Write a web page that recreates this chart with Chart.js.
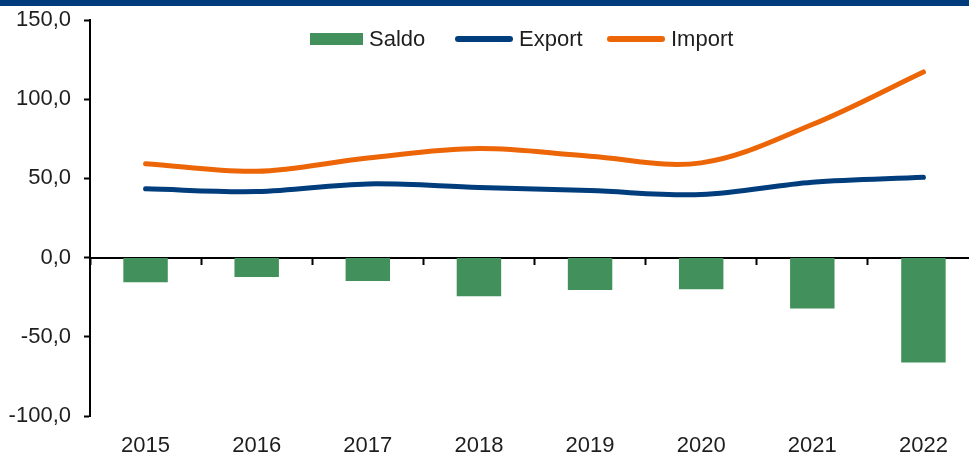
<!DOCTYPE html>
<html>
<head>
<meta charset="utf-8">
<script src="https://cdn.jsdelivr.net/npm/chart.js@4"></script>
<style>
  html, body { margin: 0; padding: 0; background: #fff; overflow: hidden; }
  #wrap { position: relative; width: 979px; height: 457px; }
  #band { position: absolute; left: 0; top: 0; width: 979px; height: 6px; background: #003b7b; }
  #chart { position: absolute; left: 0; top: 0; }
  .lg { position: absolute; top: 26px; height: 25px; display: flex; align-items: center;
        font: 22px "Liberation Sans", Arial, sans-serif; color: #1e1e1e; }
  .sw { margin-right: 6px; }
</style>
</head>
<body>
<div id="wrap">
  <canvas id="chart" width="979" height="457"></canvas>
  <div id="band"></div>
</div>
<script>
// values (bn)
const years = ['2015', '2016', '2017', '2018', '2019', '2020', '2021', '2022']
const saldo = [-15.6, -12.2, -14.8, -24.4, -20.4, -20.0, -32.2, -66.3]
const exportVals = [43.4, 41.7, 46.5, 44.2, 42.3, 39.8, 47.6, 50.7]
const importVals = [59.3, 54.5, 62.9, 68.8, 64.0, 59.8, 84.0, 117.2]
const yTicks = [-100, -50, 0, 50, 100, 150]

const GREEN = '#42905b'
const NAVY = '#003d7c'
const ORANGE = '#ec6608'
const FONT = { family: '"Liberation Sans", Arial, sans-serif', size: 22 }

// legend overlay (sits inside the plot, like the original)
const legendItems = [
  { label: 'Saldo', color: GREEN, kind: 'bar', left: 310 },
  { label: 'Export', color: NAVY, kind: 'line', left: 455 },
  { label: 'Import', color: ORANGE, kind: 'line', left: 607 },
]
const wrap = document.getElementById('wrap')
legendItems.forEach(it => {
  const el = document.createElement('div')
  el.className = 'lg'
  el.style.left = it.left + 'px'
  const sw = document.createElement('span')
  sw.className = 'sw'
  sw.style.display = 'inline-block'
  sw.style.background = it.color
  if (it.kind === 'bar') {
    sw.style.width = '53px'; sw.style.height = '12px'
  } else {
    sw.style.width = '58px'; sw.style.height = '6px'; sw.style.borderRadius = '3px'
  }
  el.appendChild(sw)
  el.appendChild(document.createTextNode(it.label))
  wrap.appendChild(el)
})

const fmt = v => v.toFixed(1).replace('.', ',')

new Chart(document.getElementById('chart'), {
  type: 'bar',
  data: {
    labels: years,
    datasets: [
      {
        type: 'line',
        label: 'Import',
        data: importVals,
        borderColor: ORANGE,
        borderWidth: 5,
        borderCapStyle: 'round',
        pointRadius: 0,
        tension: 0.35,
        order: 1,
      },
      {
        type: 'line',
        label: 'Export',
        data: exportVals,
        borderColor: NAVY,
        borderWidth: 5,
        borderCapStyle: 'round',
        pointRadius: 0,
        tension: 0.35,
        order: 2,
      },
      {
        type: 'bar',
        label: 'Saldo',
        data: saldo,
        backgroundColor: GREEN,
        categoryPercentage: 0.8,
        barPercentage: 0.5,
        order: 3,
      },
    ]
  },
  options: {
    responsive: false,
    animation: false,
    layout: { padding: { top: 20, right: 0, left: 0, bottom: 0 } },
    plugins: { legend: { display: false }, tooltip: { enabled: false } },
    scales: {
      x: {
        offset: true,
        grid: { display: false },
        border: { display: false },
        ticks: { color: '#1e1e1e', font: FONT, padding: 9, maxRotation: 0 },
        afterFit: (s) => { s.height = 41 },
      },
      x2: {
        type: 'category',
        labels: years,
        position: { y: 0 },
        offset: true,
        grid: { offset: true, drawOnChartArea: false, drawTicks: true, tickLength: 6, tickWidth: 2, color: '#000' },
        border: { display: true, color: '#000', width: 2 },
        ticks: { display: false },
      },
      y: {
        min: -100,
        max: 150,
        afterBuildTicks: (s) => { s.ticks = yTicks.map(v => ({ value: v })) },
        grid: { drawOnChartArea: false, drawTicks: true, tickLength: 6, tickWidth: 2, color: '#000' },
        border: { display: true, color: '#000', width: 2 },
        ticks: { color: '#1e1e1e', font: FONT, padding: 13, callback: (v) => fmt(v) },
        afterFit: (s) => { s.width = 90; s.paddingTop = 0; s.paddingBottom = 0 },
      }
    }
  }
})
</script>
</body>
</html>
